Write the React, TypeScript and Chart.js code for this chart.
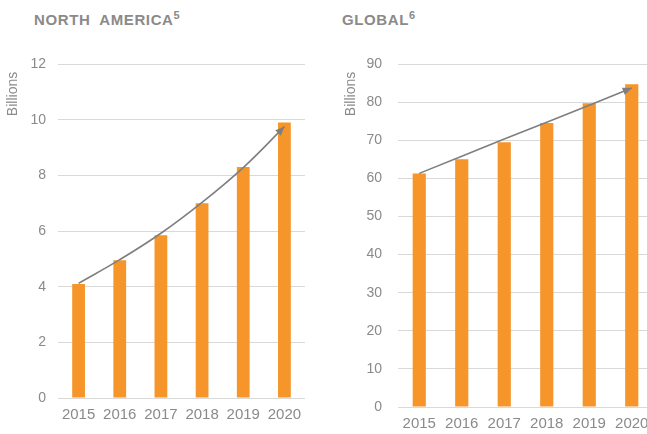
import React, { useEffect, useRef } from "react";
import { Chart, registerables } from "chart.js";

Chart.register(...registerables);

const years = ["2015", "2016", "2017", "2018", "2019", "2020"];
const northAmericaBars = [4.1, 4.95, 5.85, 7.0, 8.3, 9.9];
const northAmericaTrend = [4.12, 4.97, 5.92, 7.03, 8.28, 9.75];
const globalBars = [61.3, 65, 69.5, 74.5, 79.7, 84.7];
const globalTrend = [61.3, 65.8, 70.3, 74.7, 79.2, 83.7];
const northAmericaAxis = { max: 12, step: 2 };
const globalAxis = { max: 90, step: 10 };

const BAR = "#F5952A";
const LINE = "#7f7f7f";
const TEXT = "#8a8a8a";
const FONT = "'Liberation Sans', Arial, sans-serif";

const arrowPlugin = {
  id: "arrowHead",
  afterDatasetsDraw(chart: any) {
    const meta = chart.getDatasetMeta(0);
    if (!meta || meta.type !== "line") return;
    const pts = meta.data;
    const last = pts[pts.length - 1];
    const prev = pts[pts.length - 2];
    let fx = prev.x;
    let fy = prev.y;
    if (last.cp1x !== undefined && (last.cp1x !== last.x || last.cp1y !== last.y)) {
      fx = last.cp1x;
      fy = last.cp1y;
    }
    const ang = Math.atan2(last.y - fy, last.x - fx);
    const len = 9;
    const wid = 4;
    const ctx = chart.ctx;
    ctx.save();
    ctx.fillStyle = LINE;
    ctx.beginPath();
    ctx.moveTo(last.x, last.y);
    ctx.lineTo(
      last.x - len * Math.cos(ang) + wid * Math.sin(ang),
      last.y - len * Math.sin(ang) - wid * Math.cos(ang)
    );
    ctx.lineTo(
      last.x - len * Math.cos(ang) - wid * Math.sin(ang),
      last.y - len * Math.sin(ang) + wid * Math.cos(ang)
    );
    ctx.closePath();
    ctx.fill();
    ctx.restore();
  },
};

type PanelProps = {
  bars: number[];
  trend: number[];
  axis: { max: number; step: number };
  tension: number;
  yWidth: number;
  tickPad: number;
  padding: { left: number; right: number; top: number; bottom: number };
};

function Panel({ bars, trend, axis, tension, yWidth, tickPad, padding }: PanelProps) {
  const ref = useRef<HTMLCanvasElement>(null);
  useEffect(() => {
    if (!ref.current) return;
    const chart = new Chart(ref.current, {
      type: "bar",
      data: {
        labels: years,
        datasets: [
          {
            type: "line",
            data: trend,
            borderColor: LINE,
            borderWidth: 1.6,
            pointRadius: 0,
            tension: tension,
            cubicInterpolationMode: "default",
            order: 0,
            fill: false,
          } as any,
          {
            type: "bar",
            data: bars,
            backgroundColor: BAR,
            barPercentage: 0.31,
            categoryPercentage: 1,
            order: 1,
          },
        ],
      },
      options: {
        animation: false,
        responsive: true,
        maintainAspectRatio: false,
        layout: { padding },
        plugins: { legend: { display: false }, tooltip: { enabled: false } },
        scales: {
          x: {
            grid: { display: false, drawTicks: false },
            border: { display: false },
            ticks: { color: TEXT, font: { family: FONT, size: 15 }, padding: 8, maxRotation: 0, autoSkip: false },
          },
          y: {
            min: 0,
            max: axis.max,
            border: { display: false },
            grid: { color: "#d9d9d9", drawTicks: false, lineWidth: 1 },
            ticks: { stepSize: axis.step, color: TEXT, font: { family: FONT, size: 14 }, padding: tickPad },
            title: {
              display: true,
              text: "Billions  ",
              align: "end",
              color: TEXT,
              font: { family: FONT, size: 14 },
              padding: { top: 0, bottom: 2 },
            },
            afterFit: (s: any) => {
              s.width = yWidth;
            },
          },
        },
      },
      plugins: [arrowPlugin],
    });
    return () => chart.destroy();
  }, []);
  return <canvas ref={ref} />;
}

const titleStyle: React.CSSProperties = {
  position: "absolute",
  top: 9,
  fontFamily: FONT,
  fontWeight: "bold",
  fontSize: 15,
  letterSpacing: "0.6px",
  color: TEXT,
  whiteSpace: "pre",
};

export default function App() {
  useEffect(() => {
    document.body.style.margin = "0";
    document.body.style.overflow = "hidden";
  }, []);
  return (
    <div style={{ position: "relative", width: 647, height: 434, overflow: "hidden", background: "#fff" }}>
      <div style={{ ...titleStyle, left: 34 }}>
        {"NORTH  AMERICA"}
        <sup style={{ fontSize: 11 }}>5</sup>
      </div>
      <div style={{ ...titleStyle, left: 342 }}>
        {"GLOBAL"}
        <sup style={{ fontSize: 11 }}>6</sup>
      </div>
      <div style={{ position: "absolute", left: 0, top: 0, width: 320, height: 434 }}>
        <Panel
          bars={northAmericaBars}
          trend={northAmericaTrend}
          axis={northAmericaAxis}
          tension={0.4}
          yWidth={53}
          tickPad={12}
          padding={{ left: 5, right: 15, top: 64, bottom: 2 }}
        />
      </div>
      <div style={{ position: "absolute", left: 338, top: 0, width: 322, height: 443 }}>
        <Panel
          bars={globalBars}
          trend={globalTrend}
          axis={globalAxis}
          tension={0}
          yWidth={55}
          tickPad={16}
          padding={{ left: 5, right: 7, top: 64, bottom: 2 }}
        />
      </div>
    </div>
  );
}
